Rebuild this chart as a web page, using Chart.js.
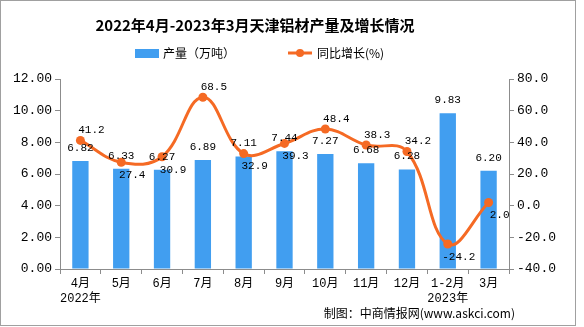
<!DOCTYPE html>
<html>
<head>
<meta charset="utf-8">
<script src="https://cdn.jsdelivr.net/npm/chart.js@4.4.0/dist/chart.umd.min.js"></script>
<style>
  body { margin: 0; background: #fff; }
</style>
</head>
<body>
<canvas id="chart" width="584" height="327"></canvas>
<script>
const months = [['4月', '2022年'], '5月', '6月', '7月', '8月', '9月', '10月', '11月', '12月', ['1-2月', '2023年'], '3月'];
const output = [6.82, 6.33, 6.27, 6.89, 7.11, 7.44, 7.27, 6.68, 6.28, 9.83, 6.20];
const growth = [41.2, 27.4, 30.9, 68.5, 32.9, 39.3, 48.4, 38.3, 34.2, -24.2, 2.0];
const outputTicks = [0, 2, 4, 6, 8, 10, 12];
const growthTicks = [-40, -20, 0, 20, 40, 60, 80];

const barColor = '#419ef0';
const lineColor = '#f56a24';
const axisColor = '#8c8c8c';
const monoFont = '"Liberation Mono", "Noto Sans CJK SC", monospace';
const cjkFont = '"Noto Sans CJK SC", sans-serif';

// a = label above-right of the point, b = below-right
const growthLabelSide = ['a', 'b', 'b', 'a', 'b', 'b', 'a', 'a', 'a', 'b', 'b'];

// title, legend, footer and the outer frame
const frame = {
    id: 'frame',
    afterDraw(chart) {
        const ctx = chart.ctx;
        ctx.save();
        ctx.strokeStyle = '#a0a0a0';
        ctx.lineWidth = 1;
        ctx.strokeRect(0.5, 0.5, 575, 325);

        ctx.fillStyle = '#000';
        ctx.textBaseline = 'middle';
        ctx.textAlign = 'center';
        ctx.font = 'bold 15px ' + cjkFont;
        ctx.fillText('2022年4月-2023年3月天津铝材产量及增长情况', 255, 25);

        ctx.textAlign = 'left';
        ctx.font = '12px ' + cjkFont;
        ctx.fillStyle = barColor;
        ctx.fillRect(135, 49, 24, 9);
        ctx.fillStyle = '#000';
        ctx.fillText('产量（万吨）', 163, 53);

        ctx.strokeStyle = lineColor;
        ctx.lineWidth = 3;
        ctx.beginPath();
        ctx.moveTo(288, 53);
        ctx.lineTo(312, 53);
        ctx.stroke();
        ctx.fillStyle = lineColor;
        ctx.beginPath();
        ctx.arc(300, 53, 4, 0, Math.PI * 2);
        ctx.fill();
        ctx.fillStyle = '#000';
        ctx.fillText('同比增长(%)', 317, 53);

        ctx.textAlign = 'right';
        ctx.fillText('制图：中商情报网(www.askci.com)', 515, 313);
        ctx.restore();
    }
};

const valueLabels = {
    id: 'valueLabels',
    afterDatasetsDraw(chart) {
        const ctx = chart.ctx;
        ctx.save();
        ctx.fillStyle = '#000';
        ctx.textAlign = 'center';
        ctx.textBaseline = 'middle';
        ctx.font = '11px ' + monoFont;
        chart.getDatasetMeta(0).data.forEach((bar, i) => {
            ctx.fillText(output[i].toFixed(2), bar.x, bar.y - 13);
        });
        chart.getDatasetMeta(1).data.forEach((pt, i) => {
            const dy = growthLabelSide[i] === 'a' ? -10 : 13;
            ctx.fillText(growth[i].toFixed(1), pt.x + 11, pt.y + dy);
        });
        ctx.restore();
    }
};

new Chart(document.getElementById('chart'), {
    type: 'bar',
    data: {
        labels: months,
        datasets: [{
            type: 'bar',
            label: '产量（万吨）',
            data: output,
            backgroundColor: barColor,
            yAxisID: 'y',
            barPercentage: 0.4,
            categoryPercentage: 1,
            order: 2
        }, {
            type: 'line',
            label: '同比增长(%)',
            data: growth,
            borderColor: lineColor,
            backgroundColor: lineColor,
            borderWidth: 3,
            pointRadius: 4.5,
            pointBackgroundColor: lineColor,
            pointBorderWidth: 0,
            tension: 0.4,
            yAxisID: 'y1',
            order: 1
        }]
    },
    options: {
        responsive: false,
        animation: false,
        layout: { padding: { top: 79, left: 0, right: 0, bottom: 0 } },
        plugins: {
            legend: { display: false },
            title: { display: false },
            tooltip: { enabled: false }
        },
        scales: {
            x: {
                grid: { offset: true, drawOnChartArea: false, color: axisColor, tickLength: 5 },
                border: { color: axisColor },
                ticks: { color: '#000', font: { size: 12, family: monoFont }, padding: 3, maxRotation: 0, autoSkip: false },
                afterFit: s => { s.height = 58; }
            },
            y: {
                position: 'left',
                min: outputTicks[0],
                max: outputTicks[outputTicks.length - 1],
                ticks: { stepSize: 2, color: '#000', font: { size: 13, family: monoFont }, padding: 3, callback: v => v.toFixed(2) },
                grid: { drawOnChartArea: false, color: axisColor, tickLength: 5 },
                border: { color: axisColor },
                afterFit: s => { s.width = 60; }
            },
            y1: {
                position: 'right',
                min: growthTicks[0],
                max: growthTicks[growthTicks.length - 1],
                ticks: { stepSize: 20, color: '#000', font: { size: 13, family: monoFont }, padding: 3, callback: v => v.toFixed(1) },
                grid: { drawOnChartArea: false, color: axisColor, tickLength: 5 },
                border: { color: axisColor },
                afterFit: s => { s.width = 75; }
            }
        }
    },
    plugins: [frame, valueLabels]
});
</script>
</body>
</html>
